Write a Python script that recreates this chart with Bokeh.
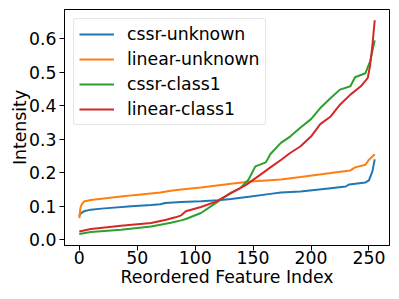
from bokeh.plotting import figure
from bokeh.models import Range1d, FixedTicker, PrintfTickFormatter, Legend, LegendItem
from bokeh.embed import file_html
from bokeh.resources import INLINE

# cssr-unknown
blue_idx = [0, 1, 4, 10, 19, 45, 62, 70, 74, 88, 105, 120, 131, 148, 165, 174, 191, 217, 230, 233, 247, 250, 253, 255]
blue_val = [0.070, 0.078, 0.085, 0.090, 0.093, 0.100, 0.104, 0.106, 0.110, 0.113, 0.115, 0.118, 0.122, 0.129,
            0.137, 0.141, 0.144, 0.154, 0.159, 0.165, 0.171, 0.177, 0.204, 0.240]
# linear-unknown
orange_idx = [0, 1, 2, 4, 10, 36, 49, 70, 79, 88, 105, 131, 148, 174, 191, 217, 234, 238, 247, 250, 255]
orange_val = [0.065, 0.095, 0.105, 0.114, 0.119, 0.129, 0.134, 0.141, 0.146, 0.150, 0.156, 0.167, 0.174,
              0.180, 0.187, 0.199, 0.207, 0.216, 0.224, 0.239, 0.255]
# cssr-class1
green_idx = [0, 10, 36, 62, 70, 79, 88, 92, 105, 118, 131, 139, 146, 152, 161, 165, 174, 182, 191, 200,
             208, 217, 225, 234, 238, 247, 251, 255]
green_val = [0.017, 0.023, 0.030, 0.040, 0.045, 0.051, 0.058, 0.062, 0.080, 0.110, 0.141, 0.154, 0.179,
             0.219, 0.231, 0.256, 0.289, 0.308, 0.335, 0.360, 0.393, 0.423, 0.448, 0.458, 0.485, 0.497,
             0.532, 0.595]
# linear-class1
red_idx = [0, 10, 36, 62, 75, 83, 88, 92, 105, 118, 131, 144, 157, 165, 174, 182, 191, 200, 208, 217,
           225, 234, 243, 249, 251, 253, 255]
red_val = [0.025, 0.032, 0.042, 0.050, 0.060, 0.067, 0.073, 0.085, 0.098, 0.114, 0.139, 0.164, 0.196,
           0.216, 0.238, 0.259, 0.279, 0.308, 0.345, 0.368, 0.403, 0.433, 0.458, 0.483, 0.520, 0.580, 0.655]

labels = ["cssr-unknown", "linear-unknown", "cssr-class1", "linear-class1"]
colors = ["#1f77b4", "#ff7f0e", "#2ca02c", "#d62728"]
x_ticks = [0, 50, 100, 150, 200, 250]
y_ticks = [0.0, 0.1, 0.2, 0.3, 0.4, 0.5, 0.6]

FONT = "DejaVu Sans"
FS = "17.3px"

p = figure(width=392, height=292, output_backend="svg", toolbar_location=None,
           x_range=Range1d(-12.75, 267.75), y_range=Range1d(-0.017, 0.687),
           min_border_left=64, min_border_right=3, min_border_top=9, min_border_bottom=47)
p.xgrid.visible = False
p.ygrid.visible = False
p.outline_line_color = "black"
p.outline_line_width = 1
p.background_fill_color = "white"
p.border_fill_color = "white"

renderers = []
for xs, ys, c in [(blue_idx, blue_val, colors[0]), (orange_idx, orange_val, colors[1]),
                  (green_idx, green_val, colors[2]), (red_idx, red_val, colors[3])]:
    renderers.append(p.line(xs, ys, line_color=c, line_width=2))

for ax in (p.xaxis[0], p.yaxis[0]):
    ax.major_label_text_font = FONT
    ax.major_label_text_font_size = FS
    ax.major_label_text_color = "black"
    ax.axis_label_text_font = FONT
    ax.axis_label_text_font_size = FS
    ax.axis_label_text_font_style = "normal"
    ax.axis_label_text_color = "black"
    ax.minor_tick_line_color = None
    ax.major_tick_in = 0
    ax.major_tick_out = 5
    ax.major_tick_line_color = "black"
    ax.axis_line_color = "black"

p.xaxis[0].ticker = FixedTicker(ticks=x_ticks)
p.yaxis[0].ticker = FixedTicker(ticks=y_ticks)
p.yaxis[0].formatter = PrintfTickFormatter(format="%.1f")
p.xaxis[0].axis_label = "Reordered Feature Index"
p.yaxis[0].axis_label = "Intensity"
p.xaxis[0].major_label_standoff = 0
p.yaxis[0].major_label_standoff = 3
p.xaxis[0].axis_label_standoff = 0
p.yaxis[0].axis_label_standoff = -4

legend = Legend(items=[LegendItem(label=l, renderers=[r]) for l, r in zip(labels, renderers)],
                location="top_left")
legend.margin = 9
legend.padding = 5
legend.spacing = 5
legend.glyph_width = 35
legend.glyph_height = 20
legend.label_height = 20
legend.label_standoff = 13
legend.label_text_font = FONT
legend.label_text_font_size = FS
legend.label_text_color = "black"
legend.border_line_color = "#cccccc"
legend.border_line_width = 1
legend.border_radius = 3
legend.background_fill_alpha = 0.8
p.add_layout(legend, "center")

open("out.html", "w").write(file_html(p, INLINE))
